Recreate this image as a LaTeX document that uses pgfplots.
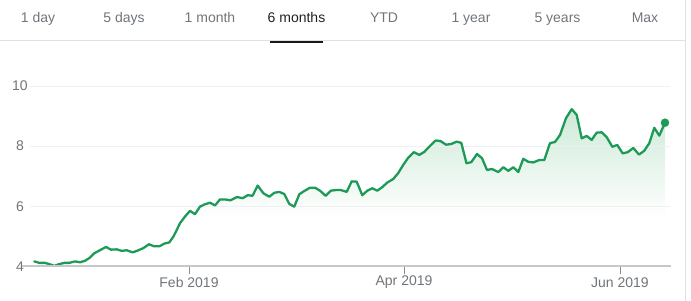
\documentclass[border=0pt]{standalone}
\usepackage{fontspec}
\setmainfont{Liberation Sans}
\usepackage{pgfplots}
\pgfplotsset{compat=1.18}
\usepackage{pgfplotstable}
\definecolor{lineg}{HTML}{1E9A57}
\definecolor{tabgray}{HTML}{70757A}
\definecolor{tickgray}{HTML}{70757A}
\definecolor{fillg}{HTML}{CDEAD8}
\pgfdeclareverticalshading{myfade}{100bp}{color(0bp)=(white); color(25bp)=(white); color(40.3bp)=(white); color(75bp)=(fillg); color(100bp)=(fillg)}
\pgfplotstableread{
x y
34.3 4.17
39.3 4.12
45.0 4.12
49.3 4.08
54.3 4.02
59.3 4.08
64.3 4.12
69.3 4.12
75.0 4.17
80.0 4.14
85.0 4.19
89.3 4.28
94.3 4.44
99.3 4.53
106.0 4.65
111.0 4.56
116.7 4.57
121.7 4.52
126.7 4.54
132.7 4.47
137.7 4.53
143.3 4.61
149.0 4.74
154.0 4.67
159.3 4.67
164.3 4.76
169.3 4.80
173.3 4.99
176.7 5.21
180.0 5.44
185.0 5.66
190.0 5.85
195.0 5.74
200.0 5.99
205.0 6.07
210.0 6.12
215.0 6.03
220.0 6.23
225.0 6.23
230.5 6.20
237.0 6.31
242.7 6.27
247.7 6.37
252.5 6.35
257.7 6.69
263.5 6.43
269.3 6.32
274.3 6.45
279.3 6.48
284.3 6.41
289.3 6.08
294.3 5.99
299.3 6.40
304.3 6.51
310.0 6.62
315.0 6.62
320.0 6.52
325.7 6.35
330.7 6.52
335.7 6.54
341.0 6.54
346.7 6.48
351.7 6.83
356.7 6.82
362.3 6.37
367.3 6.52
372.3 6.60
377.3 6.52
382.3 6.64
387.3 6.79
393.3 6.91
398.3 7.11
403.3 7.38
408.3 7.62
413.8 7.80
419.3 7.71
424.3 7.81
430.0 8.01
435.7 8.19
440.5 8.17
446.0 8.05
451.0 8.07
456.7 8.15
461.3 8.11
466.5 7.43
471.3 7.47
477.0 7.74
482.0 7.60
487.0 7.21
492.0 7.24
498.3 7.14
503.3 7.30
508.3 7.18
513.3 7.30
518.3 7.14
523.3 7.58
528.3 7.48
533.3 7.46
539.3 7.54
544.3 7.54
550.0 8.10
555.0 8.14
560.0 8.37
566.0 8.93
571.7 9.23
576.7 9.04
581.7 8.26
586.7 8.34
591.7 8.21
596.7 8.45
601.7 8.46
606.7 8.30
612.3 7.98
617.3 8.04
622.7 7.76
627.7 7.80
633.3 7.94
639.0 7.72
644.3 7.85
649.3 8.10
654.3 8.61
659.3 8.35
665.0 8.78
}\pricedata
\begin{document}
\begin{tikzpicture}[font=\fontsize{14bp}{16bp}\selectfont]
\useasboundingbox (0,0) rectangle (691bp,301bp);
\foreach \xx/\lab in {38/1 day, 124/5 days, 210/1 month, 384/YTD, 471/1 year, 557.5/5 years, 645/Max}
  \node[anchor=base, text=tabgray, inner sep=0pt] at (\xx bp, 278bp) {\lab};
\node[anchor=base, text=black!87, inner sep=0pt] at (296.5bp,278bp) {6 months};
\draw[black!12, line width=1bp] (0,260bp) -- (685bp,260bp);
\draw[black!12, line width=1bp] (685bp,0) -- (685bp,301bp);
\draw[black!90, line width=2.6bp] (270bp,259bp) -- (322.7bp,259bp);
\begin{axis}[
  at={(30bp,34.5bp)}, anchor=south west,
  scale only axis, width=640bp, height=180.5bp,
  xmin=30, xmax=670, ymin=4, ymax=10,
  axis line style={draw=none},
  xtick={189,404,620},
  xticklabels={Feb 2019,Apr 2019,Jun 2019},
  xtick pos=bottom,
  ytick={4,6,8,10},
  tick align=outside,
  major tick length=8bp,
  xtick style={draw=black!45, line width=0.8bp},
  ytick style={draw=none},
  xticklabel style={anchor=center, yshift=-8bp, text=tickgray, font=\fontsize{14bp}{16bp}\selectfont},
  yticklabel style={anchor=center, xshift=-2bp, text=tickgray, font=\fontsize{14bp}{16bp}\selectfont},
  /pgf/number format/assume math mode=true,
  clip=false,
]
\addplot[shade, shading=myfade, draw=none] table[x=x,y=y] {\pricedata} -- (axis cs:665,4) -- (axis cs:34.3,4) -- cycle;
\pgfplotsinvokeforeach{6,8,10}{\draw[black!6, line width=1bp] (axis cs:30,#1) -- (axis cs:670,#1);}
\addplot[lineg, line width=2.3bp, line join=round, line cap=round] table[x=x,y=y] {\pricedata};
\addplot[only marks, mark=*, mark size=4bp, lineg] coordinates {(665,8.78)};
\end{axis}
\draw[black!22, line width=2bp] (22bp,34.5bp) -- (671bp,34.5bp);
\end{tikzpicture}
\end{document}
